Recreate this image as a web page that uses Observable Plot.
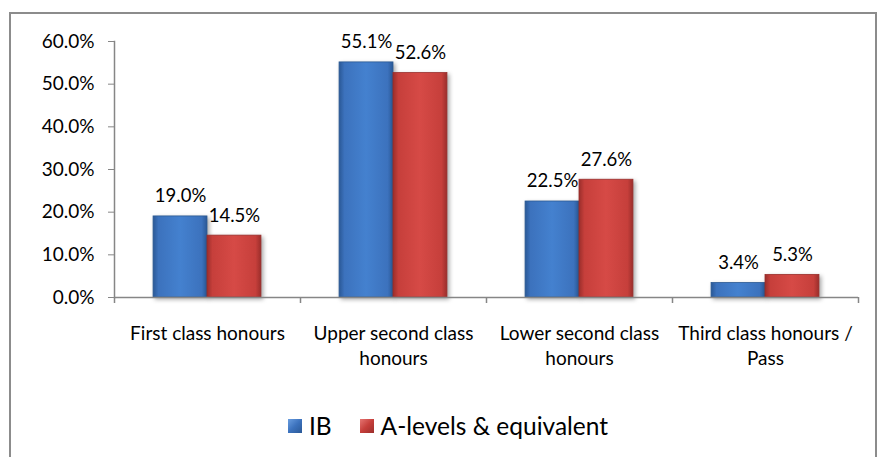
<!DOCTYPE html>
<html>
<head>
<meta charset="utf-8">
<script src="https://cdn.jsdelivr.net/npm/d3@7"></script>
<script src="https://cdn.jsdelivr.net/npm/@observablehq/plot@0.6"></script>
<style>
  html, body { margin: 0; padding: 0; background: #fff; overflow: hidden; }
  #wrap {
    position: absolute; left: 9px; top: 12px; width: 864px; height: 460px;
    border: 2px solid #8c8c8c; background: #fff;
    font-family: Lato, "Open Sans", sans-serif; color: #000;
  }
  #legend {
    position: absolute; left: 0; top: 397px; width: 864px;
    display: flex; justify-content: center; align-items: center; gap: 0;
    font-size: 24.5px; padding-left: 10px; box-sizing: border-box;
  }
  .item { display: flex; align-items: center; margin: 0 14px; }
  .sw { width: 14px; height: 14px; margin-right: 7px; box-sizing: border-box; }
</style>
</head>
<body>
<div id="wrap"><div id="chart"></div><div id="legend"></div></div>
<script>
const categories = ["First class honours", "Upper second class honours", "Lower second class honours", "Third class honours / Pass"];
const tickLabels = ["First class honours", "Upper second class\nhonours", "Lower second class\nhonours", "Third class honours /\nPass"];
const seriesNames = ["IB", "A-levels & equivalent"];
const ibValues = [19.0, 55.1, 22.5, 3.4];
const aLevelValues = [14.5, 52.6, 27.6, 5.3];
const yTicks = [0, 10, 20, 30, 40, 50, 60];

const ib = categories.map((c, i) => ({category: c, value: ibValues[i]}));
const al = categories.map((c, i) => ({category: c, value: aLevelValues[i]}));

const W = 864, H = 380, mL = 103, mR = 17, mT = 27, mB = 97;
const step = (W - mL - mR) / categories.length;
const barW = step * 0.29;
const gap = (step - 2 * barW) / 2;
const fmt = v => v.toFixed(1) + "%";
const labelMap = new Map(categories.map((c, i) => [c, tickLabels[i]]));

const plot = Plot.plot({
  width: W, height: H,
  marginLeft: mL, marginRight: mR, marginTop: mT, marginBottom: mB,
  style: {fontFamily: "Lato, 'Open Sans', sans-serif", fontSize: "19px", color: "#000", background: "#fff", overflow: "visible"},
  x: {domain: categories, padding: 0, label: null},
  y: {domain: [0, 60], label: null},
  marks: [
    Plot.barY(ib, {x: "category", y: "value", fill: "url(#gIB)", stroke: "#2c5a93", strokeWidth: 0.8,
      insetLeft: gap, insetRight: gap + barW, className: "bars"}),
    Plot.barY(al, {x: "category", y: "value", fill: "url(#gAL)", stroke: "#9a2f2c", strokeWidth: 0.8,
      insetLeft: gap + barW, insetRight: gap, className: "bars"}),
    Plot.ruleY([0], {stroke: "#868686", strokeWidth: 1.5}),
    Plot.frame({anchor: "left", stroke: "#868686", strokeWidth: 1.5}),
    Plot.ruleX(categories, {x: d => d, dx: -step / 2, y1: 0, y2: 0, insetBottom: -6, stroke: "#868686", strokeWidth: 1.5}),
    Plot.ruleX(categories.slice(-1), {x: d => d, dx: step / 2, y1: 0, y2: 0, insetBottom: -6, stroke: "#868686", strokeWidth: 1.5}),
    Plot.axisY({ticks: yTicks, tickFormat: fmt, tickSize: 6, tickPadding: 14, stroke: "#868686", fontSize: 19}),
    Plot.axisX({tickSize: 0, tickPadding: 25, tickFormat: d => labelMap.get(d), lineHeight: 1.3, fontSize: 19}),
    Plot.text(ib, {x: "category", y: "value", text: d => fmt(d.value), dx: -(barW / 2), dy: -20, fontSize: 18.5}),
    Plot.text(al, {x: "category", y: "value", text: d => fmt(d.value), dx: barW / 2, dy: -20, fontSize: 18.5})
  ]
});

const svg = d3.select(plot);
const defs = svg.insert("defs", ":first-child");
function grad(id, edge, mid, light) {
  const g = defs.append("linearGradient").attr("id", id).attr("x1", "0").attr("x2", "1").attr("y1", "0").attr("y2", "0");
  [[0, edge], [0.1, mid], [0.5, light], [0.9, mid], [1, edge]].forEach(([o, c]) =>
    g.append("stop").attr("offset", o).attr("stop-color", c));
}
grad("gIB", "#2a5896", "#3c72bd", "#4481cf");
grad("gAL", "#9b2e2b", "#c63f3b", "#d64a46");
svg.selectAll("g.bars").style("filter", "drop-shadow(2px 2px 2px rgba(0,0,0,0.35))");

document.getElementById("chart").appendChild(plot);

const legend = document.getElementById("legend");
const swatch = ["linear-gradient(135deg,#6a9ee0,#3c72bd 50%,#2a5896)", "linear-gradient(135deg,#e57572,#c63f3b 50%,#9b2e2b)"];
seriesNames.forEach((n, i) => {
  const it = document.createElement("div"); it.className = "item";
  const s = document.createElement("div"); s.className = "sw"; s.style.background = swatch[i];
  const t = document.createElement("span"); t.textContent = n;
  it.appendChild(s); it.appendChild(t); legend.appendChild(it);
});
</script>
</body>
</html>
